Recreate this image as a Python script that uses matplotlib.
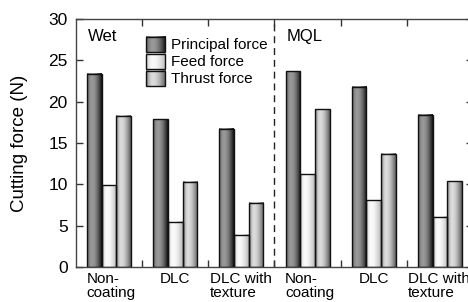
import numpy as np
import matplotlib
matplotlib.use("Agg")
import matplotlib.pyplot as plt
from matplotlib.patches import Rectangle
from matplotlib.transforms import blended_transform_factory

plt.rcParams['font.family'] = ['Liberation Sans', 'DejaVu Sans']

# data
categories = ['Non-\ncoating', 'DLC', 'DLC with\ntexture',
              'Non-\ncoating', 'DLC', 'DLC with\ntexture']
series = ['Principal force', 'Feed force', 'Thrust force']
principal = [23.4, 17.9, 16.7, 23.7, 21.8, 18.4]
feed = [9.9, 5.5, 3.9, 11.2, 8.1, 6.1]
thrust = [18.3, 10.3, 7.8, 19.1, 13.7, 10.4]
conditions = ['Wet', 'MQL']

# cylinder-like grey shading for each series (left, highlight, right)
shades = [(0.36, 0.60, 0.07), (0.76, 0.98, 0.72), (0.46, 0.86, 0.36)]


def gradient(left, peak, right, n=64):
    t = np.linspace(0, 1, n)
    g = np.where(t < 0.33,
                 left + (peak - left) * np.sin(t / 0.33 * np.pi / 2),
                 right + (peak - right) * np.cos((t - 0.33) / 0.67 * np.pi / 2))
    return g[np.newaxis, :]


fig = plt.figure(figsize=(4.68, 3.02), dpi=100)
ax = fig.add_axes([76 / 468, 35 / 302, 397 / 468, 248 / 302])
ax.set_xlim(-0.5, 5.5)
ax.set_ylim(0, 30)

x = np.arange(len(categories))
width = 0.222
for k, vals in enumerate([principal, feed, thrust]):
    xs = x + (k - 1) * width
    grad = gradient(*shades[k])
    bars = ax.bar(xs, vals, width, facecolor='none', edgecolor='#111111',
                  linewidth=1.0, zorder=3)
    for b in bars:
        x0, y0 = b.get_x(), b.get_y()
        ax.imshow(grad, extent=[x0, x0 + b.get_width(), y0, y0 + b.get_height()],
                  cmap='gray', vmin=0, vmax=1, aspect='auto',
                  interpolation='bilinear', zorder=2)

# dashed separator between Wet and MQL
ax.axvline(2.5, color='#222222', lw=1.0, ls=(0, (5, 3.5)), zorder=1)

ax.text(0.03, 0.93, conditions[0], transform=ax.transAxes, fontsize=12,
        ha='left', va='center')
ax.text(0.53, 0.93, conditions[1], transform=ax.transAxes, fontsize=12,
        ha='left', va='center')

# legend drawn by hand to keep the shaded swatches
for k, name in enumerate(series):
    y_top = 0.927 - k * 0.068
    h = 0.062
    ax.imshow(gradient(*shades[k]), extent=[0.176, 0.224, y_top - h, y_top],
              transform=ax.transAxes, cmap='gray', vmin=0, vmax=1,
              aspect='auto', interpolation='bilinear', zorder=4)
    ax.add_patch(Rectangle((0.176, y_top - h), 0.048, h, transform=ax.transAxes,
                           facecolor='none', edgecolor='#111111', lw=1.0, zorder=5))
    ax.text(0.239, y_top - h / 2, name, transform=ax.transAxes, fontsize=11,
            ha='left', va='center')

# category labels under the axis
trans = blended_transform_factory(ax.transData, ax.transAxes)
for i, lab in enumerate(categories):
    if lab == 'DLC':
        xp, ha = x[i], 'center'
    elif lab.startswith('Non'):
        xp, ha = x[i] - 0.34, 'left'
    else:
        xp, ha = x[i] - 0.48, 'left'
    ax.text(xp, -0.022, lab, transform=trans, fontsize=11, ha=ha, va='top',
            linespacing=1.0)

ax.set_xticks(np.arange(0.5, 5, 1.0))
ax.set_xticklabels([])
ax.set_yticks(np.arange(0, 31, 5))
ax.tick_params(axis='both', direction='in', length=5, width=1.0,
               top=True, right=True, color='#333333')
ax.tick_params(axis='y', labelsize=12.5, pad=6)
for s in ax.spines.values():
    s.set_linewidth(1.0)
    s.set_color('#444444')

fig.text(20 / 468, 0.5 + (302 / 2 - 143) / 302, 'Cutting force (N)', rotation=90,
         fontsize=13.5, ha='center', va='center')

fig.savefig('out.png', dpi=100)
